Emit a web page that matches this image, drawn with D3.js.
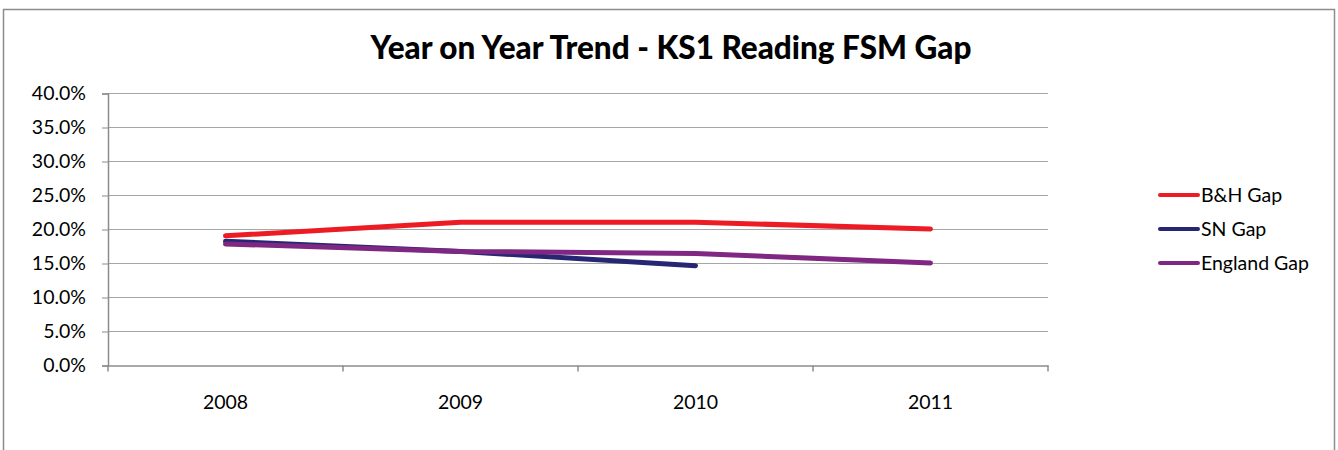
<!DOCTYPE html>
<html lang="en">
<head>
  <meta charset="UTF-8">
  <title>Year on Year Trend - KS1 Reading FSM Gap</title>
  <script src="https://d3js.org/d3.v7.min.js"></script>
  <style>
    body { margin: 0; padding: 0; background: #fff; }
    svg text { font-family: Lato, "Open Sans", sans-serif; }
  </style>
</head>
<body>
  <div id="chart"></div>
  <script>
    // chart data
    const years = ["2008", "2009", "2010", "2011"];
    const yTicks = [0, 5, 10, 15, 20, 25, 30, 35, 40];
    const bhGap = [19.0, 21.0, 21.0, 20.0];
    const snGap = [18.2, 16.7, 14.6];
    const englandGap = [17.8, 16.7, 16.4, 15.0];

    const series = [
      { name: "B&H Gap", values: bhGap, color: "#ed1c24" },
      { name: "SN Gap", values: snGap, color: "#262673" },
      { name: "England Gap", values: englandGap, color: "#7f2782" }
    ];

    const width = 1338, height = 450;
    const plot = { left: 108, right: 1048, top: 93, bottom: 365 };

    const svg = d3.select("#chart").append("svg")
      .attr("width", width).attr("height", height);

    // outer chart frame
    svg.append("rect")
      .attr("x", 3.5).attr("y", 9.5)
      .attr("width", 1331).attr("height", 460)
      .attr("fill", "#fff").attr("stroke", "#8c8c8c").attr("stroke-width", 1.5);

    svg.append("text")
      .attr("x", 671).attr("y", 59)
      .attr("text-anchor", "middle")
      .style("font-size", "31.5px").style("font-weight", "900")
      .text("Year on Year Trend - KS1 Reading FSM Gap");

    const x = d3.scaleBand().domain(years).range([plot.left, plot.right]);
    const y = d3.scaleLinear().domain([0, 40]).range([plot.bottom, plot.top]);

    // gridlines
    svg.append("g").selectAll("line")
      .data(yTicks.filter(d => d > 0))
      .join("line")
      .attr("x1", plot.left).attr("x2", plot.right)
      .attr("y1", d => y(d) + 0.5).attr("y2", d => y(d) + 0.5)
      .attr("stroke", "#a6a6a6").attr("stroke-width", 1);

    // y axis
    const yAxis = svg.append("g")
      .attr("transform", `translate(${plot.left},0.5)`)
      .call(d3.axisLeft(y).tickValues(yTicks).tickSize(6).tickPadding(16)
        .tickFormat(d => d.toFixed(1) + "%"));
    yAxis.attr("font-family", null);
    yAxis.select(".domain").attr("stroke", "#8c8c8c").attr("stroke-width", 1.5);
    yAxis.selectAll(".tick line").attr("stroke", "#8c8c8c");
    yAxis.selectAll("text").style("font-size", "19.5px").attr("fill", "#000");

    // x axis
    const xAxis = svg.append("g")
      .attr("transform", `translate(0,${plot.bottom + 0.5})`)
      .call(d3.axisBottom(x).tickSize(0).tickPadding(30));
    xAxis.attr("font-family", null);
    xAxis.select(".domain").attr("stroke", "#8c8c8c").attr("stroke-width", 1.5);
    xAxis.selectAll("text").style("font-size", "19.5px").attr("fill", "#000");
    xAxis.selectAll(".boundary")
      .data([...years.map(d => x(d)), plot.right])
      .join("line")
      .attr("class", "boundary")
      .attr("x1", d => d).attr("x2", d => d)
      .attr("y1", 0).attr("y2", 6)
      .attr("stroke", "#8c8c8c").attr("stroke-width", 1.5);

    const line = d3.line()
      .x((d, i) => x(years[i]) + x.bandwidth() / 2)
      .y(d => y(d));

    svg.append("g").selectAll("path")
      .data(series)
      .join("path")
      .attr("d", d => line(d.values))
      .attr("fill", "none")
      .attr("stroke", d => d.color)
      .attr("stroke-width", 5)
      .attr("stroke-linecap", "round")
      .attr("stroke-linejoin", "round");

    // legend
    const legend = svg.append("g").selectAll("g")
      .data(series)
      .join("g")
      .attr("transform", (d, i) => `translate(1160,${195 + i * 34})`);
    legend.append("line")
      .attr("x1", 0).attr("x2", 38)
      .attr("stroke", d => d.color).attr("stroke-width", 4)
      .attr("stroke-linecap", "round");
    legend.append("text")
      .attr("x", 41).attr("dy", "0.35em")
      .style("font-size", "19.5px")
      .text(d => d.name);
  </script>
</body>
</html>
